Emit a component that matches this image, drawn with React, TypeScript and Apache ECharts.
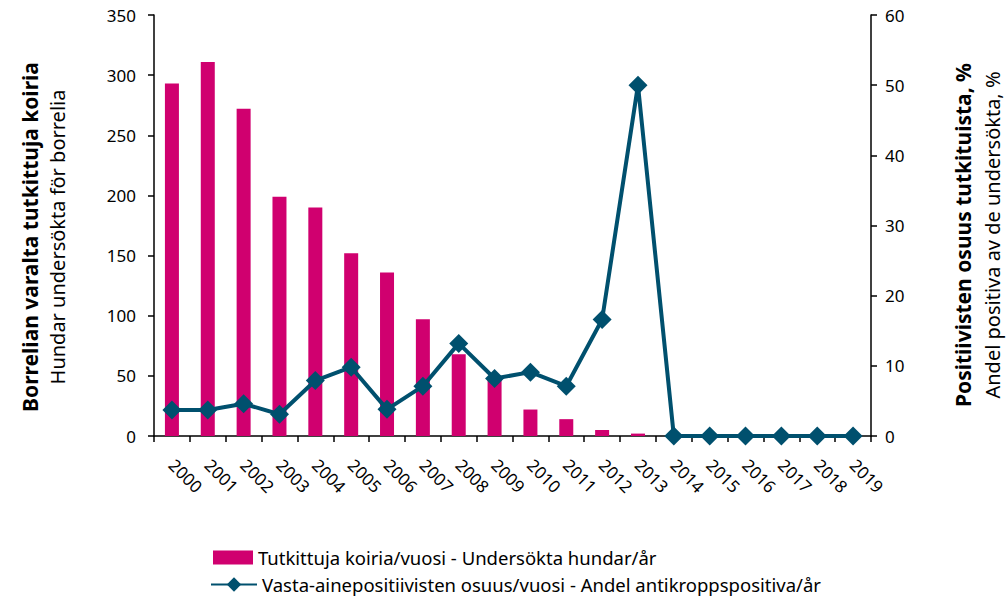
import React, { useEffect, useRef } from "react";
import * as echarts from "echarts";

const years = ["2000","2001","2002","2003","2004","2005","2006","2007","2008","2009","2010","2011","2012","2013","2014","2015","2016","2017","2018","2019"];
const dogsTested = [293, 311, 272, 199, 190, 152, 136, 97, 68, 47, 22, 14, 5, 2, 0, 0, 0, 0, 0, 0];
const positivePct = [3.7, 3.7, 4.6, 3.1, 7.9, 9.8, 3.8, 7.1, 13.2, 8.2, 9.1, 7.1, 16.6, 50, 0, 0, 0, 0, 0, 0];
const leftTicks = { min: 0, max: 350, interval: 50 };
const rightTicks = { min: 0, max: 60, interval: 10 };
const barName = "Tutkittuja koiria/vuosi - Undersökta hundar/år";
const lineName = "Vasta-ainepositiivisten osuus/vuosi - Andel antikroppspositiva/år";
const leftTitleBold = "Borrelian varalta tutkittuja koiria";
const leftTitle = "Hundar undersökta för borrelia";
const rightTitleBold = "Positiivisten osuus tutkituista, %";
const rightTitle = "Andel positiva av de undersökta, %";

const FONT = "'Noto Sans', 'Open Sans', sans-serif";
const BAR = "#D0006F";
const LINE = "#00506E";

export default function App() {
  const ref = useRef<HTMLDivElement>(null);
  useEffect(() => {
    if (!ref.current) return;
    const chart = echarts.init(ref.current, null, { renderer: "svg" });
    const axisLine = { show: true, lineStyle: { color: "#000", width: 1.5 } };
    const tick = { show: true, length: 6, lineStyle: { color: "#000", width: 1.5 } };
    const legendText = { fontFamily: FONT, fontSize: 18.5, color: "#000" };
    chart.setOption({
      animation: false,
      textStyle: { fontFamily: FONT },
      grid: { left: 154, right: 137, top: 15, bottom: 166, containLabel: false },
      legend: [
        {
          left: 213,
          top: 548,
          itemWidth: 40,
          itemHeight: 14,
          padding: 0,
          textStyle: legendText,
          data: [{ name: barName, icon: "rect" }],
        },
        {
          left: 210,
          top: 575,
          itemWidth: 46,
          itemHeight: 18,
          padding: 0,
          textStyle: legendText,
          data: [{ name: lineName }],
        },
      ],
      xAxis: {
        type: "category",
        data: years,
        axisLine,
        axisTick: tick,
        axisLabel: { rotate: -45, fontSize: 17, color: "#000", margin: 26, fontFamily: FONT },
      },
      yAxis: [
        {
          type: "value",
          ...leftTicks,
          axisLine,
          axisTick: tick,
          axisLabel: { fontSize: 17, color: "#000", margin: 18, fontFamily: FONT },
          splitLine: { show: false },
        },
        {
          type: "value",
          ...rightTicks,
          position: "right",
          axisLine,
          axisTick: tick,
          axisLabel: { fontSize: 17, color: "#000", margin: 14, fontFamily: FONT },
          splitLine: { show: false },
        },
      ],
      graphic: [
        { type: "text", x: 30, y: 237, rotation: Math.PI / 2, style: { text: leftTitleBold, font: `bold 21px ${FONT}`, fill: "#000", align: "center", verticalAlign: "middle" } },
        { type: "text", x: 57, y: 237, rotation: Math.PI / 2, style: { text: leftTitle, font: `20px ${FONT}`, fill: "#000", align: "center", verticalAlign: "middle" } },
        { type: "text", x: 963, y: 235, rotation: Math.PI / 2, style: { text: rightTitleBold, font: `bold 21px ${FONT}`, fill: "#000", align: "center", verticalAlign: "middle" } },
        { type: "text", x: 992, y: 235, rotation: Math.PI / 2, style: { text: rightTitle, font: `20px ${FONT}`, fill: "#000", align: "center", verticalAlign: "middle" } },
      ],
      series: [
        {
          name: barName,
          type: "bar",
          data: dogsTested,
          barWidth: 14,
          itemStyle: { color: BAR },
          yAxisIndex: 0,
        },
        {
          name: lineName,
          type: "line",
          data: positivePct,
          yAxisIndex: 1,
          symbol: "diamond",
          symbolSize: 19,
          lineStyle: { color: LINE, width: 4 },
          itemStyle: { color: LINE },
        },
      ],
    });
    return () => chart.dispose();
  }, []);
  return <div ref={ref} style={{ width: 1008, height: 602, position: "absolute", left: 0, top: 0 }} />;
}
